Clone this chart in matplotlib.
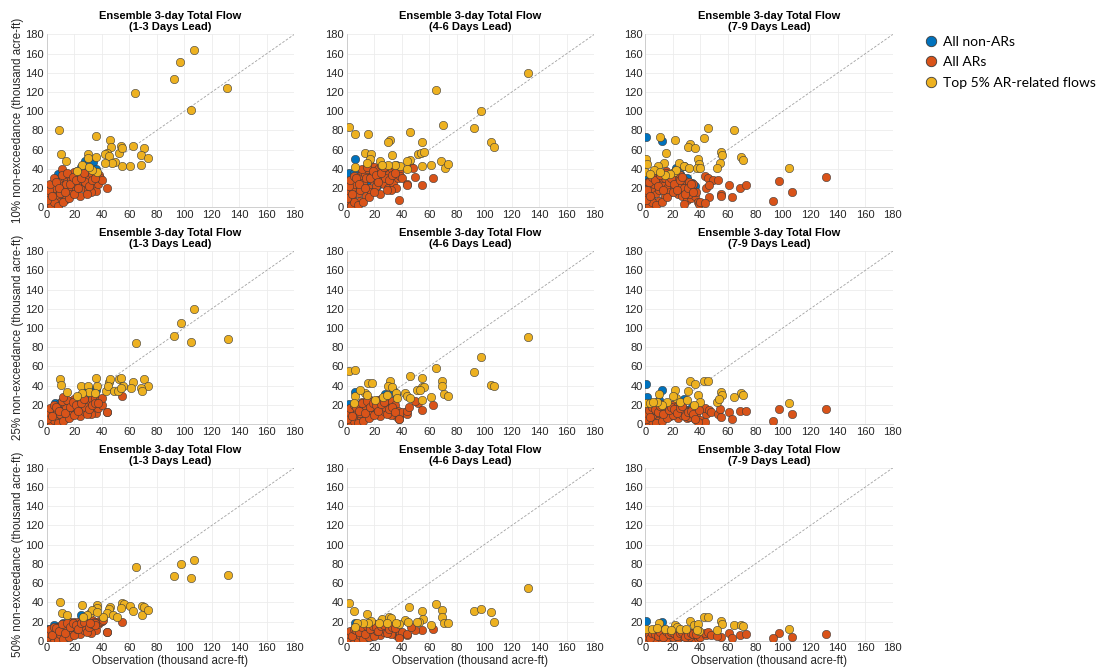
import matplotlib
matplotlib.use('Agg')
import matplotlib.pyplot as plt
from matplotlib.lines import Line2D

# colours (MATLAB default order)
c_non = '#0072BD'
c_ar = '#D95319'
c_top = '#EDB120'

leads = ['1-3 Days Lead', '4-6 Days Lead', '7-9 Days Lead']
row_labels = ['10% non-exceedance (thousand acre-ft)',
              '25% non-exceedance (thousand acre-ft)',
              '50% non-exceedance (thousand acre-ft)']
ticks = [0, 20, 40, 60, 80, 100, 120, 140, 160, 180]

########## observed flows (shared by all panels) ##########
ar_obs = [0.5, 1, 1.5, 2, 3, 4, 5, 6, 7, 8, 9, 10, 11, 12, 13, 14, 15, 16, 17, 18, 19, 20,
          21, 22, 23, 24, 25, 26, 27, 28, 29, 30, 31, 32, 33, 34, 35, 36, 37, 38, 39, 40, 44,
          1, 2, 3, 4, 5, 6, 8, 10, 12, 14, 16, 18, 20, 22, 25, 28, 32,
          0.5, 1.5, 2.5, 3.5, 5, 7, 9, 11, 13, 15, 17, 19, 21, 23, 25, 27, 29, 31, 33, 35]
nonar_obs = [0.5, 1, 2, 3, 5, 6, 8, 10, 12, 14, 18, 22, 25, 28, 30, 34, 36]

########## 10% non-exceedance ##########
ar_10_13 = [2, 5, 10, 15, 20, 8, 24, 3, 18, 12, 26, 6, 40, 22, 30, 9, 28, 18, 33, 14, 25, 37,
            19, 30, 36, 12, 22, 28, 20, 33, 24, 18, 30, 25, 35, 22, 37, 17, 24, 34, 30, 28, 20,
            12, 22, 2, 16, 6, 20, 1, 15, 5, 24, 10, 28, 14, 23, 34, 26, 16,
            8, 18, 24, 12, 30, 26, 20, 34, 16, 36, 24, 32, 28, 20, 30, 36, 14, 22, 28, 30]
ar_10_46 = [3, 8, 14, 20, 26, 10, 30, 4, 22, 15, 33, 7, 38, 25, 35, 12, 40, 20, 44, 16, 28, 42,
            22, 36, 40, 14, 27, 33, 24, 38, 30, 20, 35, 28, 40, 25, 42, 20, 30, 38, 33, 30, 24,
            16, 26, 1, 20, 5, 24, 2, 18, 6, 30, 11, 32, 16, 28, 44, 30, 18,
            10, 22, 28, 14, 33, 30, 24, 40, 20, 42, 30, 38, 34, 26, 36, 42, 18, 28, 34, 36]
ar_10_79 = [3, 8, 14, 20, 27, 10, 30, 4, 22, 15, 33, 7, 36, 25, 30, 12, 38, 20, 33, 16, 28, 36,
            22, 30, 26, 14, 20, 24, 12, 28, 18, 8, 22, 26, 10, 18, 24, 12, 16, 6, 3, 5, 20,
            16, 26, 1, 20, 5, 24, 2, 18, 6, 30, 11, 32, 16, 28, 34, 20, 14,
            8, 18, 26, 12, 32, 28, 22, 34, 18, 36, 26, 30, 24, 18, 28, 32, 14, 20, 24, 16]
tail_x_10_13 = []
tail_y_10_13 = []
tail_x_10_46 = [46, 48.5, 50, 43.7, 55, 63, 38]
tail_y_10_46 = [43, 41, 32, 23, 23, 31, 8]
tail_x_10_79 = [43.3, 45.7, 49, 52.5, 46, 61, 68.5, 73, 97.5, 107, 131.6, 92.7, 46.5, 54.7, 55, 62.7, 43.5, 28]
tail_y_10_79 = [33, 30, 28, 28, 23, 23, 20, 23, 27, 16, 32, 7, 11, 14, 12, 11, 4, 3]

non_10_13 = [2, 10, 20, 5, 15, 25, 35, 28, 34, 22, 30, 38, 42, 48, 45, 47, 40]
non_10_46 = [3, 12, 36, 6, 36, 50, 30, 28, 30, 25, 37, 22, 35, 42, 38, 40, 44]
non_10_79 = [73, 25, 30, 10, 20, 36, 28, 36, 69, 22, 30, 41, 35, 43, 30, 25, 22]

top_x_10_13 = [9.2, 10.4, 14.3, 64.3, 92.5, 97.1, 106.8, 104.6, 131, 35.9, 46, 46.8, 43.7, 42.5, 45,
               52.9, 54, 55, 62.6, 70.9, 68.9, 73.3, 60.7, 68.2, 54.9, 49.3, 47.3, 42.5, 30, 30,
               25.5, 22.3, 36.4, 33, 31, 36]
top_y_10_13 = [80, 56, 48, 119, 134, 151, 164, 101, 124, 74, 70, 63, 57, 56, 53,
               57, 64, 62, 64, 62, 54, 51, 43, 44, 43, 47, 46, 46, 55, 51,
               44, 38, 37, 39, 42, 52]
top_x_10_46 = [1.7, 6, 15.8, 65, 131.6, 97.6, 69.7, 92.7, 45.9, 105, 107.3, 31.6, 30.3, 54.9, 13.3,
               17.7, 32.8, 51.5, 53.9, 56.3, 24.5, 46.1, 43.7, 55.1, 61.4, 68.9, 71.4, 73.5, 38.8,
               35.2, 30.3, 25.7, 6, 17, 15, 43.7]
top_y_10_46 = [84, 76, 76, 122, 140, 100, 86, 83, 78, 68, 63, 70, 68, 68, 57,
               56, 54, 55, 57, 58, 48, 49, 48, 43, 44, 48, 41, 45, 43,
               44, 44, 44, 42, 50, 46, 40]
top_x_10_79 = [0.5, 0, 10.4, 21.8, 15.2, 32.4, 31.2, 35.8, 42.8, 45.7, 64.8, 54.7, 55.9, 54.4, 69.4,
               71.1, 104.5, 51.8, 38.5, 38.7, 37.3, 39.7, 24.2, 28.3, 31.7, 20.8, 13.5, 9.2, 6.5,
               3.4, 1.5, 22, 18, 14, 10.6]
top_y_10_79 = [50, 37, 73, 70, 57, 66, 63, 62, 72, 83, 81, 58, 54, 46, 52,
               49, 41, 41, 50, 45, 41, 41, 46, 43, 41, 37, 46, 43, 39,
               35, 45, 39, 35, 34, 37]

########## 25% non-exceedance ##########
ar_25_13 = [1, 4, 7, 10, 14, 5, 16, 2, 12, 8, 18, 3, 22, 14, 20, 6, 19, 11, 24, 9, 17, 26,
            13, 21, 25, 8, 16, 20, 14, 24, 17, 12, 22, 18, 26, 15, 27, 11, 17, 24, 22, 20, 12,
            8, 15, 1, 11, 4, 14, 1, 10, 3, 17, 6, 20, 9, 16, 23, 18, 10,
            5, 12, 17, 8, 20, 18, 14, 24, 11, 25, 18, 23, 20, 14, 22, 26, 10, 16, 20, 22]
ar_25_46 = [2, 5, 9, 12, 16, 6, 18, 2, 14, 9, 20, 4, 23, 15, 21, 7, 22, 12, 25, 9, 18, 24,
            13, 21, 25, 8, 17, 22, 13, 24, 18, 11, 22, 18, 24, 14, 20, 8, 14, 5, 10, 12, 10,
            10, 16, 1, 13, 3, 15, 1, 11, 3, 18, 6, 21, 9, 16, 22, 18, 9,
            5, 12, 17, 8, 20, 18, 14, 22, 11, 24, 18, 22, 20, 14, 21, 23, 10, 16, 18, 12]
ar_25_79 = [2, 5, 9, 12, 16, 6, 18, 2, 14, 9, 19, 4, 21, 13, 18, 7, 20, 11, 19, 8, 16, 20,
            12, 18, 14, 6, 15, 18, 9, 16, 12, 6, 14, 10, 15, 8, 12, 5, 9, 3, 2, 4, 10,
            10, 16, 1, 13, 3, 15, 1, 11, 3, 17, 6, 18, 9, 14, 19, 13, 7,
            5, 11, 15, 7, 18, 16, 12, 19, 10, 20, 15, 18, 16, 11, 17, 19, 8, 12, 14, 10]
tail_x_25_13 = [11.6, 54.6, 43.7, 40, 37.6]
tail_y_25_13 = [28, 29, 12, 27, 22]
tail_x_25_46 = [52, 63, 55, 43.7, 38, 50, 45]
tail_y_25_46 = [22, 20, 14.7, 14, 5, 24, 18]
tail_x_25_79 = [43.3, 46, 48, 52.7, 55, 61, 62.8, 68.5, 73, 97.5, 107, 131.6, 92.7, 43.5, 38, 36, 54, 38.7]
tail_y_25_79 = [16.4, 15, 12, 10.5, 7, 12, 5, 13, 13, 16, 10, 16, 3, 2.5, 2.5, 5, 16, 14.7]

non_25_13 = [4, 15, 8, 12, 18, 22, 20, 22, 23, 18, 20, 24, 30, 36, 30, 35, 35]
non_25_46 = [3, 10, 21, 8, 18, 33, 20, 20, 22, 18, 23, 20, 26, 31, 24, 35, 30]
non_25_79 = [42, 28, 10, 14, 20, 15, 18, 25, 35, 12, 20, 14, 18, 26, 15, 18, 13.6]

top_x_25_13 = [9.7, 10.4, 14.6, 65, 92.7, 97.3, 107, 104.8, 131.7, 25.2, 30.3, 35.9, 36.6, 31, 35.2,
               26, 22.3, 45, 46, 43, 44.4, 49, 51.7, 52.2, 54.3, 55.6, 54, 62.6, 61.1, 71.1,
               73.3, 68.9, 69.1]
top_y_25_13 = [47, 41, 33, 84, 92, 105, 120, 85, 89, 40, 40, 47.5, 40, 33, 32,
               32, 29, 44, 47, 34, 40, 34, 34, 47, 48, 40, 37, 44, 37, 47,
               40, 37, 34]
top_x_25_46 = [1.7, 6, 15.3, 18.2, 131.7, 97.5, 92.7, 65, 45.9, 54.8, 69.1, 69.1, 105, 107.2, 71,
               73.5, 54.6, 56.3, 51.4, 53.5, 55, 61.4, 31.5, 30.3, 33, 35.7, 36.4, 42.7, 43.7,
               46, 13.3, 14.6, 20.6, 26.2, 29, 6.3, 9.7, 5.6]
top_y_25_46 = [55.6, 56.6, 42.6, 43, 91, 69.6, 53.8, 58, 49.6, 48, 45, 40, 40.5, 40, 31,
               28.7, 38.4, 38, 35.6, 35, 25, 28.6, 44.7, 40, 39, 32, 27, 32, 29,
               27, 32, 30, 25, 28.6, 30, 29, 35.6, 21.7]
top_x_25_79 = [0.5, 3.4, 10.2, 21.8, 32.4, 36, 42.8, 45.7, 38.5, 39.7, 54.7, 56, 51.8, 53.5, 69.4,
               71.1, 64.8, 104.5, 22.3, 25.2, 30, 31.2, 15.5, 11.9, 8.2, 5.8, 35.6, 20.3]
top_y_25_79 = [22, 21.7, 31.5, 35.7, 44.4, 41.6, 45, 45, 29.7, 22.4, 32.9, 30.4, 23.4, 25.9, 32,
               29.7, 28, 21.7, 27, 22.4, 25, 33.9, 23.4, 20, 22.4, 23.4, 20, 28.7]

########## 50% non-exceedance ##########
ar_50_13 = [1, 3, 5, 8, 10, 4, 12, 2, 10, 6, 14, 3, 16, 9, 15, 4, 17, 8, 19, 6, 14, 20,
            10, 17, 20, 7, 15, 19, 11, 21, 16, 10, 20, 15, 22, 13, 20, 11, 17, 21, 19, 21, 9,
            6, 10, 1, 7, 2, 9, 1, 7, 2, 12, 4, 14, 6, 12, 18, 14, 8,
            4, 8, 12, 6, 14, 13, 10, 17, 8, 18, 14, 18, 16, 12, 18, 20, 9, 14, 17, 18]
ar_50_46 = [1, 3, 5, 7, 9, 3, 10, 1, 8, 5, 12, 2, 14, 8, 13, 4, 15, 7, 16, 5, 12, 17,
            9, 15, 17, 6, 13, 16, 9, 17, 14, 8, 16, 12, 17, 10, 14, 6, 10, 4, 8, 9, 6,
            5, 8, 1, 6, 2, 8, 1, 6, 2, 10, 4, 12, 5, 10, 14, 12, 7,
            3, 7, 10, 5, 12, 11, 9, 14, 7, 15, 12, 15, 14, 10, 15, 16, 8, 12, 14, 13]
ar_50_79 = [1, 2, 4, 6, 8, 3, 9, 1, 7, 4, 10, 2, 11, 6, 10, 3, 11, 5, 10, 4, 9, 11,
            6, 10, 9, 3, 8, 10, 5, 9, 7, 3, 9, 6, 8, 4, 7, 2, 6, 3, 5, 4, 6,
            4, 6, 1, 5, 2, 7, 1, 5, 2, 8, 3, 9, 4, 8, 10, 7, 4,
            2, 5, 7, 3, 8, 7, 5, 9, 4, 10, 7, 9, 8, 5, 8, 9, 4, 6, 8, 7]
tail_x_50_13 = [44, 55, 41, 35, 31.5]
tail_y_50_13 = [9.4, 19.8, 21.6, 16.4, 18]
tail_x_50_46 = [55, 63, 43.7, 38, 49.7, 47]
tail_y_50_46 = [11, 12, 7, 2.4, 11, 14.6]
tail_x_50_79 = [43.3, 45.7, 55, 61, 62.8, 68.5, 73, 97.5, 107, 131.6, 92.7, 37, 48, 52]
tail_y_50_79 = [7.7, 8.7, 4.2, 8.4, 2.4, 6.3, 6.6, 7.7, 4.2, 7, 2.4, 7, 6, 5]

non_50_13 = [2.4, 12, 8, 10, 16, 12, 14, 15, 18, 15, 17, 18, 26.5, 20, 18, 20, 20]
non_50_46 = [2, 6, 5, 8, 12, 18, 10, 12, 10, 12, 14, 10, 12, 14, 12, 12, 10]
non_50_79 = [20.5, 5, 3, 4, 6, 5, 8, 6, 20, 6, 7, 5, 6, 6, 5, 6, 4]

top_x_50_13 = [9.7, 10.9, 14.6, 25.5, 65, 92.9, 97.8, 107.2, 104.8, 131.7, 36.4, 36.4, 46, 45.4, 54.8,
               56.3, 54, 60.7, 63, 69.1, 70.8, 69.1, 74, 43.7, 48.5, 51, 41.2, 31.5, 32.8, 29,
               26.7, 36.4]
top_y_50_13 = [40, 28.9, 26.8, 37.3, 76.6, 67.9, 80, 83.6, 65, 68.6, 37.3, 33.8, 35.5, 32.7, 39,
               38.3, 34.5, 36.6, 30.6, 36.6, 34.8, 26.8, 31.7, 28.6, 26.8, 25, 25, 29.2, 32, 26.8,
               25, 30.3]
top_x_50_46 = [1.7, 5.6, 14.6, 25.5, 31, 32.3, 45.6, 54.8, 55.8, 52.6, 51, 65, 69.1, 69.1, 70.8,
               73.5, 61.4, 92.9, 97.5, 104.8, 107.2, 131.7, 42.5, 44.9, 38.3, 35.7, 29, 23.8, 17.5,
               15.8, 11.6, 7.3, 6]
top_y_50_46 = [39, 31, 27.9, 22.3, 25, 24, 34.8, 31, 22.6, 19, 19, 38.6, 32, 24.4, 18,
               18, 16.4, 31.3, 33, 30, 20, 55.4, 21.6, 19.8, 17, 18, 18, 18, 20.5,
               18.8, 18, 18.8, 14.6]
top_x_50_79 = [0.5, 4.6, 10.2, 8.2, 14.3, 21.8, 23.2, 25.2, 32.4, 35.6, 38.5, 42.8, 45.7, 39.2, 37.3,
               54.7, 55.9, 51.8, 64.8, 69.4, 71.1, 104.5, 29.5, 18.6]
top_y_50_79 = [12, 11.8, 18, 13, 11.8, 16.4, 14, 11.8, 20.5, 16.4, 17, 25, 25, 10, 11,
               20.5, 17.4, 11, 16.4, 16.4, 15.3, 12.2, 11.8, 11]

# one entry per panel: (AR forecasts, AR tail x, AR tail y, non-AR forecasts, top5 x, top5 y)
panels = [
    [(ar_10_13, tail_x_10_13, tail_y_10_13, non_10_13, top_x_10_13, top_y_10_13),
     (ar_10_46, tail_x_10_46, tail_y_10_46, non_10_46, top_x_10_46, top_y_10_46),
     (ar_10_79, tail_x_10_79, tail_y_10_79, non_10_79, top_x_10_79, top_y_10_79)],
    [(ar_25_13, tail_x_25_13, tail_y_25_13, non_25_13, top_x_25_13, top_y_25_13),
     (ar_25_46, tail_x_25_46, tail_y_25_46, non_25_46, top_x_25_46, top_y_25_46),
     (ar_25_79, tail_x_25_79, tail_y_25_79, non_25_79, top_x_25_79, top_y_25_79)],
    [(ar_50_13, tail_x_50_13, tail_y_50_13, non_50_13, top_x_50_13, top_y_50_13),
     (ar_50_46, tail_x_50_46, tail_y_50_46, non_50_46, top_x_50_46, top_y_50_46),
     (ar_50_79, tail_x_50_79, tail_y_50_79, non_50_79, top_x_50_79, top_y_50_79)],
]

plt.rcParams['font.family'] = ['Liberation Sans', 'DejaVu Sans']

fig = plt.figure(figsize=(11.02, 6.70), dpi=100)

col_left = [0.0424, 0.3146, 0.5856]
row_bottom = [0.6906, 0.3672, 0.0437]
ax_w = 0.2246
ax_h = 0.258

mk = dict(s=36, edgecolors='#3a3a3a', linewidths=0.4, zorder=3)

for r in range(3):
    for c in range(3):
        ax = fig.add_axes([col_left[c], row_bottom[r], ax_w, ax_h])
        ar_fc, tx, ty, non_fc, top_x, top_y = panels[r][c]

        ax.plot([0, 180], [0, 180], linestyle=(0, (3, 2)), color='#a0a0a0', lw=0.6, zorder=2)
        ax.scatter(nonar_obs, non_fc, color=c_non, **mk)
        ax.scatter(ar_obs + tx, ar_fc + ty, color=c_ar, **mk)
        ax.scatter(top_x, top_y, color=c_top, **mk)

        ax.set_xlim(0, 180)
        ax.set_ylim(0, 180)
        ax.set_xticks(ticks)
        ax.set_yticks(ticks)
        ax.grid(True, color='#ececec', lw=0.6)
        ax.set_axisbelow(True)
        for side in ['top', 'right']:
            ax.spines[side].set_visible(False)
        for side in ['left', 'bottom']:
            ax.spines[side].set_color('#c8c8c8')
            ax.spines[side].set_linewidth(0.6)
        ax.tick_params(labelsize=8, length=0, pad=2, colors='#c8c8c8', labelcolor='#262626')

        ax.set_title('Ensemble 3-day Total Flow\n(' + leads[c] + ')',
                     fontsize=8, fontweight='bold', pad=3, linespacing=1.1)
        if c == 0:
            ax.set_ylabel(row_labels[r], fontsize=8.3, color='#262626', labelpad=1)
        if r == 2:
            ax.set_xlabel('Observation (thousand acre-ft)', fontsize=8.3, color='#262626', labelpad=1)

handles = [Line2D([], [], marker='o', linestyle='none', markersize=7.5, markerfacecolor=col,
                  markeredgecolor='#3a3a3a', markeredgewidth=0.6)
           for col in [c_non, c_ar, c_top]]
fig.legend(handles, ['All non-ARs', 'All ARs', 'Top 5% AR-related flows'],
           loc='upper left', bbox_to_anchor=(0.832, 0.955), frameon=False,
           prop={'family': 'Lato', 'size': 10}, handletextpad=0.3, labelspacing=0.62,
           handlelength=1.2, borderaxespad=0)

fig.savefig('out.png', dpi=100)
